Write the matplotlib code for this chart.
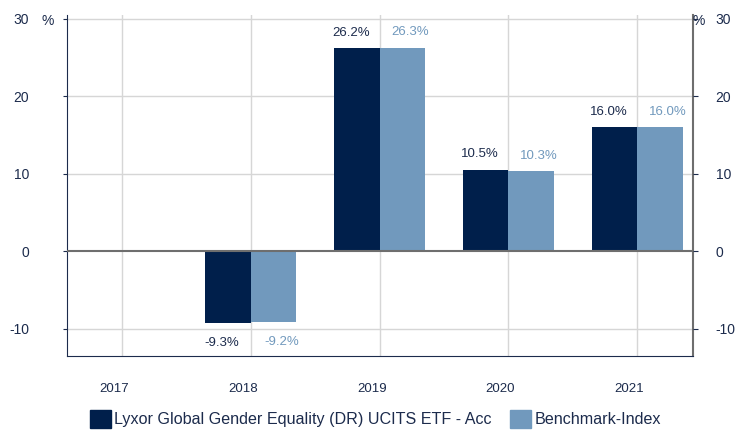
import numpy as np
import matplotlib.pyplot as plt
import matplotlib.transforms as mtransforms
from matplotlib.patches import Patch

plt.rcParams['font.family'] = ['Liberation Sans', 'DejaVu Sans']

years = ['2017', '2018', '2019', '2020', '2021']
fund = [np.nan, -9.3, 26.2, 10.5, 16.0]
bench = [np.nan, -9.2, 26.3, 10.3, 16.0]
yticks = [-10, 0, 10, 20, 30]
fund_name = 'Lyxor Global Gender Equality (DR) UCITS ETF - Acc'
bench_name = 'Benchmark-Index'

dark = '#001f4b'
light = '#7199bd'
txt = '#1c2b4c'
grid = '#d6d6d6'

fig = plt.figure(figsize=(7.36, 4.30), dpi=100)
ax = fig.add_axes([0.0906, 0.173, 0.8505, 0.792])

x = np.arange(len(years))
w = 0.353
ax.bar(x - w / 2, fund, w, color=dark, zorder=3)
ax.bar(x + w / 2, bench, w, color=light, zorder=3)

ax.set_xlim(-0.43, 4.43)
ax.set_ylim(-13.5, 30.5)

# grid
for yv in yticks:
    if yv != 0:
        ax.axhline(yv, color=grid, lw=1, zorder=1)
ax.axhline(0, color='#6e6e6e', lw=1.5, zorder=4)
for xv in x:
    ax.axvline(xv, color=grid, lw=1, zorder=1)

# value labels
def pt(dx, dy):
    return mtransforms.offset_copy(ax.transData, fig=fig, x=dx, y=dy, units='dots')

for i in range(len(years)):
    if np.isnan(fund[i]):
        continue
    for val, xo, col, dxp in [(fund[i], x[i] - w / 2, txt, -6), (bench[i], x[i] + w / 2, light, 8)]:
        dy = 15.5 if val >= 0 else -20
        ax.text(xo, val, f'{val:.1f}%', transform=pt(dxp, dy), ha='center', va='center',
                fontsize=9.5, color=col)

# x labels
ax.set_xticks([])
for i, yr in enumerate(years):
    ax.text(x[i], -13.5, yr, transform=pt(-8, -33), ha='center', va='center', fontsize=9.5, color=txt)

# spines
ax.spines['top'].set_visible(False)
ax.spines['left'].set_color(txt)
ax.spines['bottom'].set_color(txt)
ax.spines['right'].set_color('#6e6e6e')
ax.spines['right'].set_linewidth(1.5)

ax.set_yticks(yticks)
ax.set_yticklabels([str(v) for v in yticks])
ax.tick_params(axis='y', length=3, color=txt, labelcolor=txt, labelsize=10, pad=24)
ax.tick_params(axis='x', length=0)

ax2 = ax.twinx()
ax2.set_ylim(ax.get_ylim())
ax2.set_yticks(yticks)
ax2.set_yticklabels([str(v) for v in yticks])
ax2.tick_params(axis='y', length=3.6, color=txt, labelcolor=txt, labelsize=10, pad=13)
for s in ['top', 'left', 'bottom', 'right']:
    ax2.spines[s].set_visible(False)

ax.text(0, 30, '%', transform=mtransforms.offset_copy(ax.get_yaxis_transform(), fig=fig, x=-19, y=-2, units='dots'),
        ha='center', va='center', fontsize=10, color=txt)
ax.text(1, 30, '%', transform=mtransforms.offset_copy(ax.get_yaxis_transform(), fig=fig, x=6, y=-2, units='dots'),
        ha='center', va='center', fontsize=10, color=txt)

handles = [Patch(color=dark), Patch(color=light)]
fig.legend(handles, [fund_name, bench_name], loc='center', bbox_to_anchor=(0.51, 0.026), ncol=2,
           frameon=False, fontsize=11.6, handlelength=1.35, handleheight=1.3, handletextpad=0.2,
           columnspacing=1.1, labelcolor=txt)

fig.savefig('out.png', dpi=100)
